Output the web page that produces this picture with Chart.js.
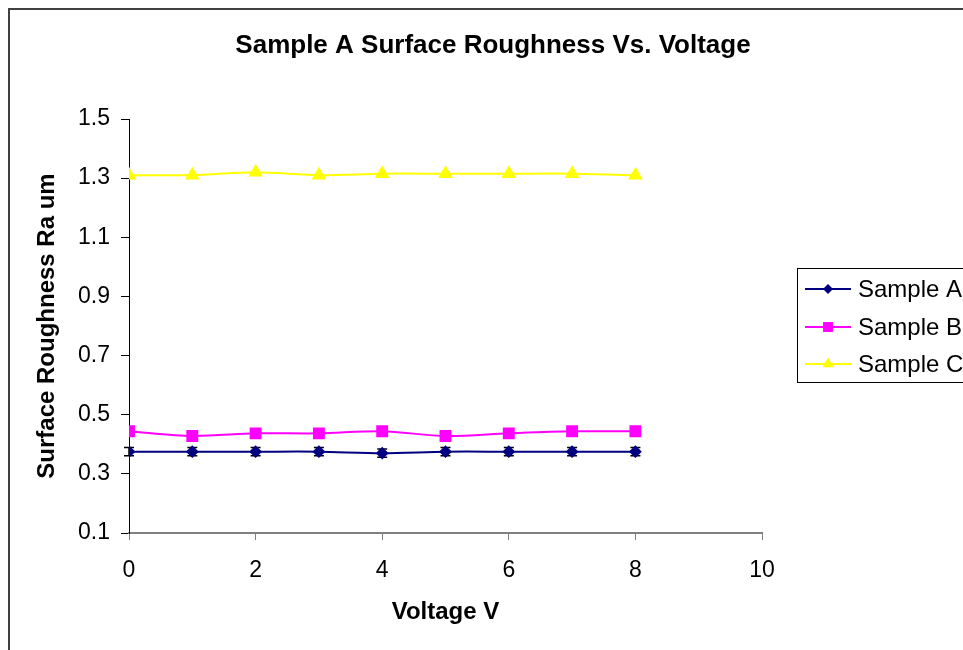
<!DOCTYPE html>
<html>
<head>
<meta charset="utf-8">
<script src="https://cdn.jsdelivr.net/npm/chart.js@4"></script>
<style>
  html, body { margin: 0; padding: 0; background: #fff; overflow: hidden; }
  #wrap { position: relative; width: 963px; height: 650px; }
</style>
</head>
<body>
<div id="wrap"><canvas id="chart" width="963" height="650"></canvas></div>
<script>
// data
var voltage = [0, 1, 2, 3, 4, 5, 6, 7, 8];
var sampleA = [0.375, 0.375, 0.375, 0.375, 0.37, 0.375, 0.375, 0.375, 0.375];
var sampleB = [0.444, 0.428, 0.437, 0.437, 0.444, 0.428, 0.437, 0.444, 0.444];
var sampleC = [1.31, 1.31, 1.32, 1.31, 1.315, 1.315, 1.315, 1.315, 1.31];
var errA = [0.014, 0.014, 0.014, 0.014, 0.014, 0.014, 0.014, 0.014, 0.014];
var xTicks = [0, 2, 4, 6, 8, 10];
var yTicks = [0.1, 0.3, 0.5, 0.7, 0.9, 1.1, 1.3, 1.5];
var seriesNames = ['Sample A', 'Sample B', 'Sample C'];

var FONT = "'Liberation Sans', Arial, sans-serif";

function toPoints(ys) {
  return voltage.map(function (v, i) { return { x: v, y: ys[i] }; });
}

function drawMarker(ctx, style, r, x, y, color) {
  ctx.save();
  ctx.fillStyle = color;
  ctx.beginPath();
  if (style === 'rectRot') {
    ctx.moveTo(x, y - r); ctx.lineTo(x + r, y); ctx.lineTo(x, y + r); ctx.lineTo(x - r, y);
  } else if (style === 'rect') {
    var s = r * Math.SQRT1_2;
    ctx.rect(x - s, y - s, 2 * s, 2 * s);
  } else {
    ctx.moveTo(x, y - r);
    ctx.lineTo(x + r * 0.866, y + r * 0.5);
    ctx.lineTo(x - r * 0.866, y + r * 0.5);
  }
  ctx.closePath();
  ctx.fill();
  ctx.restore();
}

// title, frame, legend box, error bars
var decor = {
  id: 'decor',
  beforeDraw: function (chart) {
    var ctx = chart.ctx;
    ctx.save();
    ctx.strokeStyle = '#404040';
    ctx.lineWidth = 2;
    ctx.strokeRect(9, 9, 2000, 2000);
    ctx.fillStyle = '#000';
    ctx.font = 'bold 26px ' + FONT;
    ctx.textAlign = 'center';
    ctx.textBaseline = 'middle';
    ctx.fillText('Sample A Surface Roughness Vs. Voltage', 493, 46);
    ctx.restore();
  },
  beforeDatasetsDraw: function (chart) {
    // error bars for Sample A, under the markers
    var ctx = chart.ctx;
    var ys = chart.scales.y;
    var meta = chart.getDatasetMeta(0);
    ctx.save();
    ctx.strokeStyle = '#000';
    ctx.lineWidth = 1.5;
    meta.data.forEach(function (pt, i) {
      var top = ys.getPixelForValue(sampleA[i] + errA[i]);
      var bot = ys.getPixelForValue(sampleA[i] - errA[i]);
      ctx.beginPath();
      ctx.moveTo(pt.x, top); ctx.lineTo(pt.x, bot);
      ctx.moveTo(pt.x - 5, top); ctx.lineTo(pt.x + 5, top);
      ctx.moveTo(pt.x - 5, bot); ctx.lineTo(pt.x + 5, bot);
      ctx.stroke();
    });
    ctx.restore();
  },
  afterDraw: function (chart) {
    var ctx = chart.ctx;
    ctx.save();
    ctx.fillStyle = '#fff';
    ctx.fillRect(797, 268, 300, 114);
    ctx.strokeStyle = '#000';
    ctx.lineWidth = 1;
    ctx.strokeRect(797.5, 268.5, 300, 114);
    var rowsY = [289, 327, 364];
    chart.data.datasets.forEach(function (ds, i) {
      var y = rowsY[i];
      ctx.strokeStyle = ds.borderColor;
      ctx.lineWidth = 2;
      ctx.beginPath();
      ctx.moveTo(805, y); ctx.lineTo(851, y);
      ctx.stroke();
      drawMarker(ctx, ds.pointStyle, ds.pointRadius, 828, y, ds.pointBackgroundColor);
      ctx.fillStyle = '#000';
      ctx.font = '24px ' + FONT;
      ctx.textAlign = 'left';
      ctx.textBaseline = 'middle';
      ctx.fillText(ds.label, 858, y + 1);
    });
    ctx.restore();
  }
};

var ctx = document.getElementById('chart').getContext('2d');
new Chart(ctx, {
  type: 'line',
  data: {
    datasets: [{
      label: seriesNames[0],
      data: toPoints(sampleA),
      borderColor: '#000080',
      pointBackgroundColor: '#000080',
      pointBorderColor: '#000080',
      pointStyle: 'rectRot',
      pointRadius: 5,
      borderWidth: 2,
      tension: 0.3
    }, {
      label: seriesNames[1],
      data: toPoints(sampleB),
      borderColor: '#FF00FF',
      pointBackgroundColor: '#FF00FF',
      pointBorderColor: '#FF00FF',
      pointStyle: 'rect',
      pointRadius: 7,
      borderWidth: 2,
      tension: 0.3
    }, {
      label: seriesNames[2],
      data: toPoints(sampleC),
      borderColor: '#FFFF00',
      pointBackgroundColor: '#FFFF00',
      pointBorderColor: '#FFFF00',
      pointStyle: 'triangle',
      pointRadius: 6.5,
      borderWidth: 2,
      tension: 0.3
    }]
  },
  options: {
    responsive: false,
    animation: false,
    events: [],
    layout: { padding: { left: 33, right: 201, top: 119, bottom: 23 } },
    plugins: {
      legend: { display: false },
      title: { display: false },
      tooltip: { enabled: false }
    },
    scales: {
      x: {
        type: 'linear',
        min: 0,
        max: 10,
        afterFit: function (scale) { scale.height = 94; },
        afterBuildTicks: function (scale) {
          scale.ticks = xTicks.map(function (v) { return { value: v }; });
        },
        border: { color: '#808080', width: 2 },
        grid: { drawOnChartArea: false, drawTicks: true, tickLength: 7, tickColor: '#808080', tickWidth: 1 },
        ticks: { color: '#000', padding: 17, maxRotation: 0, font: { family: FONT, size: 23 } },
        title: {
          display: true,
          text: 'Voltage V',
          color: '#000',
          padding: 0,
          font: { family: FONT, size: 24, weight: 'bold' }
        }
      },
      y: {
        min: 0.1,
        max: 1.5,
        afterFit: function (scale) { scale.width = 96; },
        afterBuildTicks: function (scale) {
          scale.ticks = yTicks.map(function (v) { return { value: v }; });
        },
        border: { color: '#000', width: 1 },
        grid: { drawOnChartArea: false, drawTicks: true, tickLength: 8, tickColor: '#000', tickWidth: 1 },
        ticks: {
          color: '#000',
          padding: 11,
          font: { family: FONT, size: 23 },
          callback: function (v) { return v.toFixed(1); }
        },
        title: {
          display: true,
          text: 'Surface Roughness Ra um',
          color: '#000',
          padding: 0,
          font: { family: FONT, size: 24, weight: 'bold' }
        }
      }
    }
  },
  plugins: [decor]
});
</script>
</body>
</html>
